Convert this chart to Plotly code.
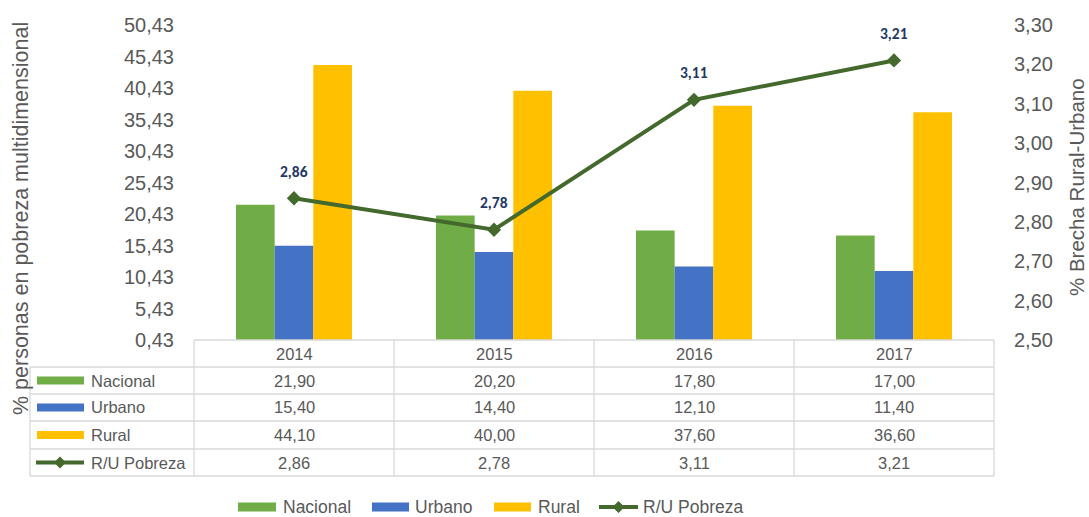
import plotly.graph_objects as go

# ---------------- data ----------------
years = ["2014", "2015", "2016", "2017"]
nacional = [21.90, 20.20, 17.80, 17.00]
urbano = [15.40, 14.40, 12.10, 11.40]
rural = [44.10, 40.00, 37.60, 36.60]
ru_pobreza = [2.86, 2.78, 3.11, 3.21]

series_names = ["Nacional", "Urbano", "Rural", "R/U Pobreza"]
colors = ["#70AD47", "#4472C4", "#FFC000", "#44692C"]

left_title = "% personas en pobreza multidimensional"
right_title = "% Brecha Rural-Urbano"

# ---------------- layout geometry (pixels) ----------------
W, H = 1089, 517
L, R, T, B = 194, 95, 25, 177
PW, PH = W - L - R, H - T - B
FONT = "Liberation Sans, Arial, sans-serif"
GRAY = "#595959"
LINEC = "#D9D9D9"


def px(x):
    return (x - L) / PW


def py(y):
    return (H - B - y) / PH


def fmt(v):
    return f"{v:.2f}".replace(".", ",")


fig = go.Figure()
for name, vals, col in zip(series_names[:3], [nacional, urbano, rural], colors[:3]):
    fig.add_trace(go.Bar(x=years, y=vals, name=name, marker_color=col,
                         marker_line_width=0, yaxis="y"))

fig.add_trace(go.Scatter(x=years, y=ru_pobreza, name=series_names[3], yaxis="y2",
                         mode="lines+markers",
                         line=dict(color=colors[3], width=4),
                         marker=dict(symbol="diamond", size=11, color=colors[3])))

shapes = []
annotations = []

# data labels on the line (x = category index)
for i, v in enumerate(ru_pobreza):
    annotations.append(dict(x=i, y=v, xref="x", yref="y2", text=f"<b>{fmt(v)}</b>",
                            xanchor="center", yanchor="middle",
                            showarrow=False, yshift=27,
                            font=dict(family="Carlito, Calibri, Liberation Sans, sans-serif",
                                      size=15.5, color="#1F3864")))

# ---------------- data table ----------------
row_tops = [340, 367, 394, 421, 449, 476]
col_x = [194, 394, 594, 794, 994]
left_x = 30
line_w = 1.3
shapes.append(dict(type="line", xref="paper", yref="paper", x0=px(col_x[0]), x1=px(col_x[-1]),
                   y0=py(row_tops[0]), y1=py(row_tops[0]), line=dict(color=LINEC, width=line_w)))
for yy in row_tops[1:]:
    shapes.append(dict(type="line", xref="paper", yref="paper", x0=px(left_x), x1=px(col_x[-1]),
                       y0=py(yy), y1=py(yy), line=dict(color=LINEC, width=line_w)))
shapes.append(dict(type="line", xref="paper", yref="paper", x0=px(left_x), x1=px(left_x),
                   y0=py(row_tops[1]), y1=py(row_tops[-1]), line=dict(color=LINEC, width=line_w)))
for xx in col_x:
    shapes.append(dict(type="line", xref="paper", yref="paper", x0=px(xx), x1=px(xx),
                       y0=py(row_tops[0]), y1=py(row_tops[-1]), line=dict(color=LINEC, width=line_w)))

TFS = 16.5
for i, yr in enumerate(years):
    annotations.append(dict(x=i, y=py((row_tops[0] + row_tops[1]) / 2), xref="x", yref="paper",
                            text=yr, showarrow=False, xanchor="center", yanchor="middle",
                            font=dict(family=FONT, size=TFS, color=GRAY)))
table_vals = [[fmt(v) for v in nacional], [fmt(v) for v in urbano],
              [fmt(v) for v in rural], [fmt(v) for v in ru_pobreza]]
for r, (name, vals) in enumerate(zip(series_names, table_vals)):
    yc = (row_tops[r + 1] + row_tops[r + 2]) / 2
    for i in range(len(years)):
        annotations.append(dict(x=i, y=py(yc), xref="x", yref="paper", text=vals[i],
                                showarrow=False, xanchor="center", yanchor="middle",
                                font=dict(family=FONT, size=TFS, color=GRAY)))
    if r < 3:
        shapes.append(dict(type="rect", xref="paper", yref="paper", x0=px(37), x1=px(84),
                           y0=py(yc - 4), y1=py(yc + 4), fillcolor=colors[r], line_width=0))
    else:
        shapes.append(dict(type="line", xref="paper", yref="paper", x0=px(36), x1=px(84),
                           y0=py(yc), y1=py(yc), line=dict(color=colors[3], width=4)))
        shapes.append(dict(type="path", xref="paper", yref="paper",
                           path=f"M {px(60-6)},{py(yc)} L {px(60)},{py(yc-6)} L {px(60+6)},{py(yc)} L {px(60)},{py(yc+6)} Z",
                           fillcolor=colors[3], line_width=0))
    annotations.append(dict(x=px(89), y=py(yc), xref="paper", yref="paper", text=name,
                            xanchor="left", yanchor="middle", showarrow=False,
                            font=dict(family=FONT, size=TFS, color=GRAY)))

# ---------------- bottom legend ----------------
leg_y = 507
leg_items = [(238, 276, 281), (372, 409, 413), (494, 531, 536), (599, 638, 641)]
for k, (x0, x1, tx) in enumerate(leg_items):
    if k < 3:
        shapes.append(dict(type="rect", xref="paper", yref="paper", x0=px(x0), x1=px(x1),
                           y0=py(leg_y - 4.5), y1=py(leg_y + 4.5), fillcolor=colors[k], line_width=0))
    else:
        shapes.append(dict(type="line", xref="paper", yref="paper", x0=px(x0), x1=px(x1),
                           y0=py(leg_y), y1=py(leg_y), line=dict(color=colors[3], width=4)))
        xm = (x0 + x1) / 2
        shapes.append(dict(type="path", xref="paper", yref="paper",
                           path=f"M {px(xm-6)},{py(leg_y)} L {px(xm)},{py(leg_y-6)} L {px(xm+6)},{py(leg_y)} L {px(xm)},{py(leg_y+6)} Z",
                           fillcolor=colors[3], line_width=0))
    annotations.append(dict(x=px(tx), y=py(leg_y), xref="paper", yref="paper",
                            text=series_names[k], xanchor="left", yanchor="middle", showarrow=False,
                            font=dict(family=FONT, size=17.5, color=GRAY)))

# axis titles
annotations.append(dict(x=px(21), y=py(219), xref="paper", yref="paper", text=left_title,
                        textangle=-90, showarrow=False, xanchor="center", yanchor="middle",
                        font=dict(family=FONT, size=21.5, color=GRAY)))
annotations.append(dict(x=px(1077), y=py(187), xref="paper", yref="paper", text=right_title,
                        textangle=-90, showarrow=False, xanchor="center", yanchor="middle",
                        font=dict(family=FONT, size=20.5, color=GRAY)))

fig.update_layout(
    width=W, height=H,
    margin=dict(l=L, r=R, t=T, b=B, autoexpand=False),
    paper_bgcolor="white", plot_bgcolor="white",
    separators=",.",
    barmode="group", bargap=0.42, bargroupgap=0,
    showlegend=False,
    xaxis=dict(type="category", range=[-0.5, 3.5], showticklabels=False, showgrid=False,
               zeroline=False, showline=False, ticks=""),
    yaxis=dict(range=[0.43, 50.43], tick0=0.43, dtick=5, tickformat=".2f",
               showgrid=False, zeroline=False, showline=False, ticks="",
               tickfont=dict(family=FONT, size=20, color=GRAY), ticklabelstandoff=19),
    yaxis2=dict(range=[2.5, 3.3], tick0=2.5, dtick=0.1, tickformat=".2f", overlaying="y",
                side="right", showgrid=False, zeroline=False, showline=False, ticks="",
                tickfont=dict(family=FONT, size=20, color=GRAY), ticklabelstandoff=19),
    shapes=shapes, annotations=annotations,
)

fig.write_html("out.html", config={"displayModeBar": False},
               post_script="document.body.style.margin='0';document.body.style.overflow='hidden';")
